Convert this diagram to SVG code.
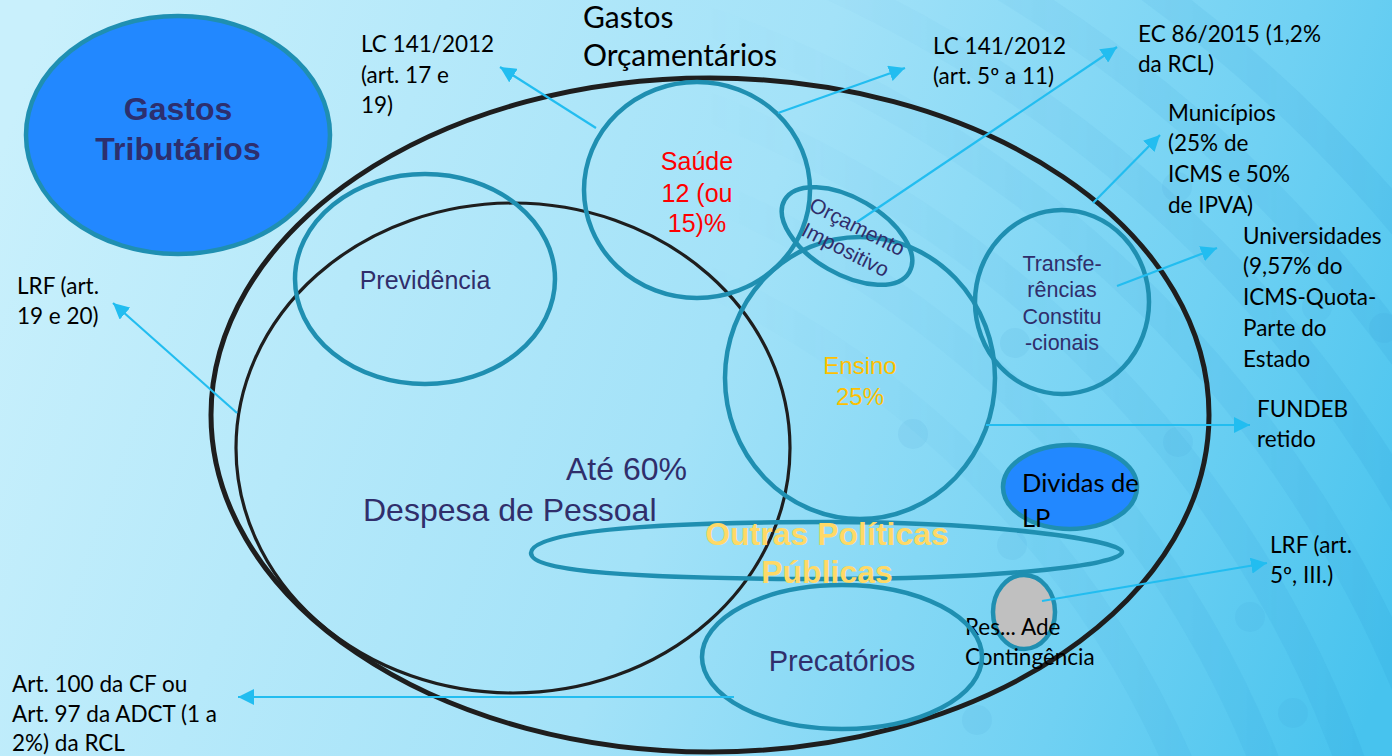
<svg xmlns="http://www.w3.org/2000/svg" width="1392" height="756" viewBox="0 0 1392 756">
<defs>
<linearGradient id="bg" gradientUnits="userSpaceOnUse" x1="0" y1="150" x2="1392" y2="650">
<stop offset="0" stop-color="#c9f0fc"/>
<stop offset="0.5" stop-color="#a3e2f8"/>
<stop offset="0.8" stop-color="#70d1f3"/>
<stop offset="1" stop-color="#47c3ee"/>
</linearGradient>
<linearGradient id="fade" gradientUnits="userSpaceOnUse" x1="700" y1="0" x2="1392" y2="0">
<stop offset="0" stop-color="#000"/>
<stop offset="1" stop-color="#fff"/>
</linearGradient>
<mask id="m"><rect width="1392" height="756" fill="url(#fade)"/></mask>
<marker id="ah" markerUnits="userSpaceOnUse" viewBox="0 0 16 16" refX="16" refY="8" markerWidth="16" markerHeight="16" orient="auto">
<path d="M0,0 L16,8 L0,16 z" fill="#22bdf0"/>
</marker>
<style>
.ring{fill:none;stroke:#1f8fb1;stroke-width:4.5}
.blk{fill:none;stroke:#1e1e1e}
.cal{font-family:Lato,"Liberation Sans",sans-serif}
.ar{font-family:"Liberation Sans",Arial,sans-serif}
.nv{fill:#302e6b}
.arw{stroke:#22bdf0;stroke-width:2.2;fill:none;marker-end:url(#ah)}
.dot{fill:#2f8fc8;opacity:0.08}
</style>
</defs>

<rect width="1392" height="756" fill="url(#bg)"/>
<g mask="url(#m)" fill="none" stroke="#1a8ccc" stroke-opacity="0.1" stroke-width="30">
<circle cx="300" cy="1150" r="960"/>
<circle cx="300" cy="1150" r="1040"/>
<circle cx="300" cy="1150" r="1120"/>
<circle cx="300" cy="1150" r="1200"/>
<circle cx="300" cy="1150" r="1280"/>
<circle cx="300" cy="1150" r="1360"/>
<circle cx="300" cy="1150" r="1440"/>
</g>
<g>
<circle class="dot" cx="913" cy="434" r="15"/>
<circle class="dot" cx="1012" cy="545" r="15"/>
<circle class="dot" cx="977" cy="720" r="15"/>
<circle class="dot" cx="1178" cy="442" r="15"/>
<circle class="dot" cx="1250" cy="617" r="15"/>
<circle class="dot" cx="1293" cy="713" r="15"/>
<circle class="dot" cx="1177" cy="187" r="15"/>
<circle class="dot" cx="1015" cy="343" r="15"/>
<circle class="dot" cx="1317" cy="307" r="15"/>
<circle class="dot" cx="1384" cy="328" r="15"/>
</g>

<g id="gastos-tributarios">
<ellipse cx="178" cy="135" rx="152" ry="119" fill="#2288ff" stroke="#1f8fb1" stroke-width="4.5"/>
<text class="ar" x="178" y="120" font-size="32" font-weight="bold" text-anchor="middle" fill="#2d2f6e">Gastos</text>
<text class="ar" x="178" y="160" font-size="32" font-weight="bold" text-anchor="middle" fill="#2d2f6e">Tributários</text>
</g>

<g id="gastos-orcamentarios">
<ellipse class="blk" cx="710" cy="415" rx="499" ry="337" stroke-width="5"/>
<text class="cal" x="583" y="28" font-size="30" fill="#000">Gastos</text>
<text class="cal" x="583" y="66" font-size="30" fill="#000">Orçamentários</text>
</g>

<g id="despesa-pessoal">
<ellipse class="blk" cx="513" cy="448" rx="277" ry="245" stroke-width="3.2"/>
<text class="ar nv" x="566" y="480" font-size="32">Até 60%</text>
<text class="ar nv" x="363" y="521" font-size="32">Despesa de Pessoal</text>
</g>

<g id="previdencia">
<ellipse class="ring" cx="425" cy="279" rx="130" ry="105"/>
<text class="ar nv" x="425" y="289" font-size="25" text-anchor="middle">Previdência</text>
</g>

<g id="saude">
<ellipse class="ring" cx="697" cy="190" rx="113" ry="108"/>
<text class="ar" x="697" y="170" font-size="25" text-anchor="middle" fill="#ff0000">Saúde</text>
<text class="ar" x="697" y="202" font-size="25" text-anchor="middle" fill="#ff0000">12 (ou</text>
<text class="ar" x="697" y="232" font-size="25" text-anchor="middle" fill="#ff0000">15)%</text>
</g>

<g id="ensino">
<ellipse class="ring" cx="860" cy="378" rx="135" ry="141"/>
<text class="ar" x="860" y="374" font-size="24" text-anchor="middle" fill="#ffc000">Ensino</text>
<text class="ar" x="860" y="405" font-size="24" text-anchor="middle" fill="#ffc000">25%</text>
</g>

<g id="orcamento-impositivo">
<ellipse class="ring" cx="847" cy="236" rx="72" ry="38" transform="rotate(30 847 236)"/>
<g transform="translate(854 233) rotate(27)">
<text class="ar nv" x="0" y="0" font-size="21" text-anchor="middle">Orçamento</text>
<text class="ar nv" x="0" y="26" font-size="21" text-anchor="middle">Impositivo</text>
</g>
</g>

<g id="transferencias">
<ellipse class="ring" cx="1062" cy="302" rx="87" ry="92"/>
<text class="ar nv" x="1062" y="271" font-size="21.5" text-anchor="middle">Transfe-</text>
<text class="ar nv" x="1062" y="297" font-size="21.5" text-anchor="middle">rências</text>
<text class="ar nv" x="1062" y="324" font-size="21.5" text-anchor="middle">Constitu</text>
<text class="ar nv" x="1062" y="350" font-size="21.5" text-anchor="middle">-cionais</text>
</g>

<g id="outras-politicas">
<path class="ring" d="M531,553 C531,532 640,522 830,522 C990,522 1122,540 1122,552 C1122,566 990,579 830,579 C640,579 531,572 531,553 Z"/>
<text class="ar" x="827" y="545" font-size="32" font-weight="bold" text-anchor="middle" fill="#ffd966">Outras Políticas</text>
<text class="ar" x="827" y="583" font-size="32" font-weight="bold" text-anchor="middle" fill="#ffd966">Públicas</text>
</g>

<g id="dividas">
<ellipse cx="1070" cy="487" rx="67" ry="42" fill="#2288ff" stroke="#1f8fb1" stroke-width="4.5"/>
<text class="cal" x="1022" y="492" font-size="25.5" fill="#000">Dividas de</text>
<text class="cal" x="1022" y="527" font-size="25.5" fill="#000">LP</text>
</g>

<g id="reserva">
<ellipse cx="1024" cy="612" rx="31" ry="37" fill="#c0c0c0" stroke="#1f8fb1" stroke-width="4.5"/>
<text class="cal" x="965" y="635" font-size="22.5" fill="#000">Res... Ade</text>
<text class="cal" x="965" y="665" font-size="22.5" fill="#000">Contingência</text>
</g>

<g id="precatorios">
<ellipse class="ring" cx="842" cy="657" rx="140" ry="72"/>
<text class="ar nv" x="842" y="671" font-size="29" text-anchor="middle">Precatórios</text>
</g>

<g id="labels" font-size="22.5" fill="#000">
<text class="cal" x="361" y="52">LC 141/2012</text>
<text class="cal" x="361" y="83">(art. 17 e</text>
<text class="cal" x="361" y="113">19)</text>
<text class="cal" x="933" y="54">LC 141/2012</text>
<text class="cal" x="933" y="84">(art. 5º a 11)</text>
<text class="cal" x="1138" y="42">EC 86/2015 (1,2%</text>
<text class="cal" x="1138" y="72">da RCL)</text>
<text class="cal" x="1168" y="121">Municípios</text>
<text class="cal" x="1168" y="151">(25% de</text>
<text class="cal" x="1168" y="182">ICMS e 50%</text>
<text class="cal" x="1168" y="213">de IPVA)</text>
<text class="cal" x="1243" y="244">Universidades</text>
<text class="cal" x="1243" y="274">(9,57% do</text>
<text class="cal" x="1243" y="305">ICMS-Quota-</text>
<text class="cal" x="1243" y="336">Parte do</text>
<text class="cal" x="1243" y="367">Estado</text>
<text class="cal" x="17" y="294">LRF (art.</text>
<text class="cal" x="17" y="324">19 e 20)</text>
<text class="cal" x="1257" y="417">FUNDEB</text>
<text class="cal" x="1257" y="447">retido</text>
<text class="cal" x="1270" y="553">LRF (art.</text>
<text class="cal" x="1270" y="583">5º, III.)</text>
<text class="cal" x="12" y="692">Art. 100 da CF ou</text>
<text class="cal" x="12" y="722">Art. 97 da ADCT (1 a</text>
<text class="cal" x="12" y="751">2%) da RCL</text>
</g>

<g id="connectors">
<line class="arw" x1="596" y1="128" x2="500" y2="67"/>
<line class="arw" x1="778" y1="113" x2="905" y2="68"/>
<line class="arw" x1="857" y1="222" x2="1117" y2="47"/>
<line class="arw" x1="1093" y1="203" x2="1160" y2="135"/>
<line class="arw" x1="1117" y1="286" x2="1217" y2="248"/>
<line class="arw" x1="237" y1="413" x2="113" y2="303"/>
<line class="arw" x1="986" y1="425" x2="1250" y2="425"/>
<line class="arw" x1="1042" y1="601" x2="1267" y2="563"/>
<line class="arw" x1="734" y1="697" x2="238" y2="697"/>
</g>
</svg>
